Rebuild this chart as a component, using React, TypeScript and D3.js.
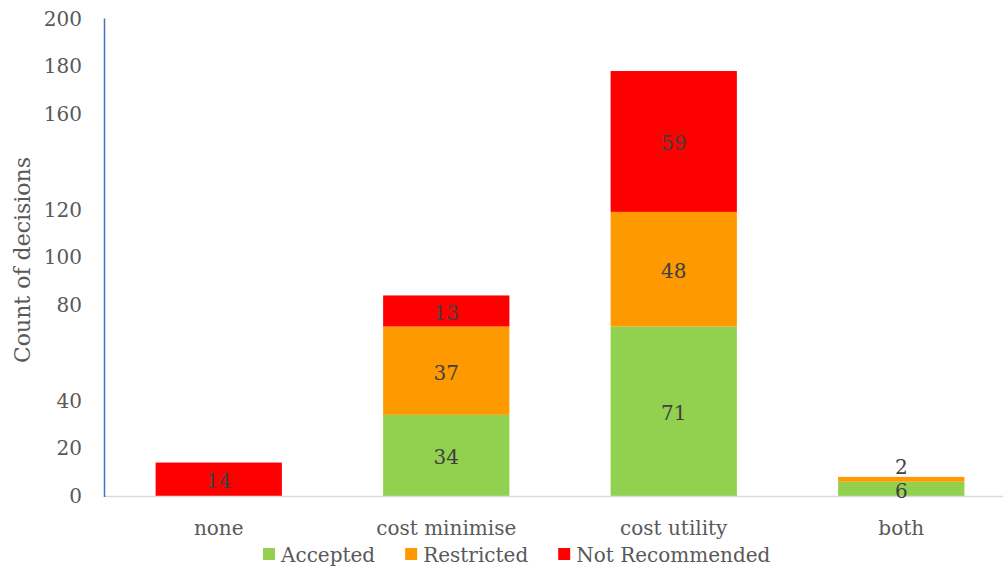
import React, { useRef, useEffect } from 'react';
import * as d3 from 'd3';

const WIDTH = 1003;
const HEIGHT = 572;

const categories = ['none', 'cost minimise', 'cost utility', 'both'];
const seriesNames = ['Accepted', 'Restricted', 'Not Recommended'];
const accepted = [0, 34, 71, 6];
const restricted = [0, 37, 48, 2];
const notRecommended = [14, 13, 59, 0];
const seriesColors = ['#92D050', '#FF9900', '#FF0000'];
// the original axis skips 60 and 140
const yTicks = [0, 20, 40, 80, 100, 120, 160, 180, 200];

const FONT = 'DejaVu Serif, serif';
const TEXT = '#595959';

export default function App() {
  const svgRef = useRef<SVGSVGElement>(null);

  useEffect(() => {
    if (!svgRef.current) return;
    const svg = d3.select(svgRef.current);
    svg.selectAll('*').remove();

    const x = d3
      .scaleBand<string>()
      .domain(categories)
      .range([105, 1015])
      .paddingInner(0.445)
      .paddingOuter(0.2225);
    const y = d3.scaleLinear().domain([0, 200]).range([496, 18.5]);

    const rows = categories.map((c, i) => ({
      cat: c,
      Accepted: accepted[i],
      Restricted: restricted[i],
      'Not Recommended': notRecommended[i],
    }));
    const stacked = d3.stack<any>().keys(seriesNames)(rows);

    // bars
    stacked.forEach((layer, si) => {
      svg
        .append('g')
        .selectAll('rect')
        .data(layer)
        .join('rect')
        .attr('x', (d) => x(d.data.cat)!)
        .attr('width', x.bandwidth())
        .attr('y', (d) => y(d[1]))
        .attr('height', (d) => y(d[0]) - y(d[1]))
        .attr('fill', seriesColors[si]);
    });

    // baseline + value axis line
    svg
      .append('line')
      .attr('x1', 105)
      .attr('x2', WIDTH)
      .attr('y1', y(0) + 0.5)
      .attr('y2', y(0) + 0.5)
      .attr('stroke', '#D9D9D9')
      .attr('stroke-width', 1.5);
    svg
      .append('line')
      .attr('x1', 104.5)
      .attr('x2', 104.5)
      .attr('y1', y(200))
      .attr('y2', y(0) + 1)
      .attr('stroke', '#4472C4')
      .attr('stroke-width', 1.5);

    // data labels, nudged up when they would collide with the one below
    categories.forEach((c, ci) => {
      let prevY = Infinity;
      stacked.forEach((layer) => {
        const d = layer[ci];
        const v = d[1] - d[0];
        if (v <= 0) return;
        let cy = (y(d[0]) + y(d[1])) / 2 + 2;
        if (prevY - cy < 24) cy = prevY - 24;
        prevY = cy;
        svg
          .append('text')
          .attr('x', x(c)! + x.bandwidth() / 2)
          .attr('y', cy)
          .attr('dy', '0.35em')
          .attr('text-anchor', 'middle')
          .attr('font-family', FONT)
          .attr('font-size', 20)
          .attr('fill', '#404040')
          .text(v);
      });
    });

    // y tick labels
    svg
      .append('g')
      .selectAll('text')
      .data(yTicks)
      .join('text')
      .attr('x', 82)
      .attr('y', (d) => y(d))
      .attr('dy', '0.35em')
      .attr('text-anchor', 'end')
      .attr('font-family', FONT)
      .attr('font-size', 20)
      .attr('fill', TEXT)
      .text((d) => d);

    // category labels
    svg
      .append('g')
      .selectAll('text')
      .data(categories)
      .join('text')
      .attr('x', (d) => x(d)! + x.bandwidth() / 2)
      .attr('y', 535)
      .attr('text-anchor', 'middle')
      .attr('font-family', FONT)
      .attr('font-size', 20)
      .attr('fill', TEXT)
      .text((d) => d);

    // axis title
    svg
      .append('text')
      .attr('transform', 'translate(30, 260) rotate(-90)')
      .attr('text-anchor', 'middle')
      .attr('font-family', FONT)
      .attr('font-size', 22)
      .attr('fill', TEXT)
      .text('Count of decisions');

    // legend
    let lx = 263;
    seriesNames.forEach((name, i) => {
      svg
        .append('rect')
        .attr('x', lx)
        .attr('y', 548)
        .attr('width', 12)
        .attr('height', 12)
        .attr('fill', seriesColors[i]);
      const t = svg
        .append('text')
        .attr('x', lx + 18)
        .attr('y', 562)
        .attr('font-family', FONT)
        .attr('font-size', 20)
        .attr('fill', TEXT)
        .text(name);
      const w = (t.node() as SVGTextElement).getComputedTextLength();
      lx += 18 + w + 30;
    });
  }, []);

  return (
    <svg
      ref={svgRef}
      width={WIDTH}
      height={HEIGHT}
      style={{ position: 'absolute', left: 0, top: 0, background: '#fff' }}
    />
  );
}
